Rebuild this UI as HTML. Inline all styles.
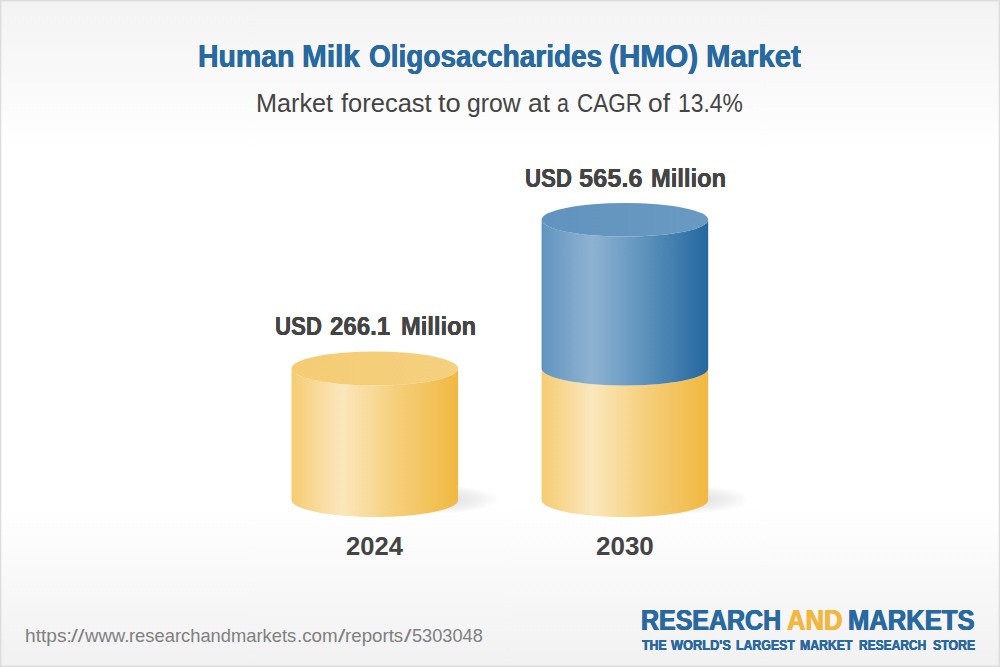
<!DOCTYPE html>
<html>
<head>
<meta charset="utf-8">
<title>Human Milk Oligosaccharides (HMO) Market</title>
<style>
html,body{margin:0;padding:0;}
body{width:1000px;height:667px;overflow:hidden;background:#fff;font-family:"Liberation Sans",sans-serif;}
#card{position:absolute;left:0;top:0;width:1000px;height:667px;box-sizing:border-box;
 border:1px solid #dcdcdc;box-shadow:inset 0 0 0 1px rgba(0,0,0,0.035);
 background:linear-gradient(to bottom,#f3f3f3 0px,#ffffff 150px,#ffffff 505px,#f1f1f1 667px);}
#art{position:absolute;left:0;top:0;width:1000px;height:667px;}
.t{position:absolute;white-space:nowrap;line-height:1;transform-origin:0 0;margin:0;padding:0;}
#title0{left:197.91px;top:41px;font-size:31.0px;font-weight:bold;color:#2769a0;transform:scaleX(0.9180);text-shadow:0.35px 0 0 #2769a0,-0.35px 0 0 #2769a0;}
#title1{left:302.34px;top:41px;font-size:31.0px;font-weight:bold;color:#2769a0;transform:scaleX(0.9602);text-shadow:0.35px 0 0 #2769a0,-0.35px 0 0 #2769a0;}
#title2{left:368.73px;top:41px;font-size:31.0px;font-weight:bold;color:#2769a0;transform:scaleX(0.9022);text-shadow:0.35px 0 0 #2769a0,-0.35px 0 0 #2769a0;}
#title3{left:609.38px;top:41px;font-size:31.0px;font-weight:bold;color:#2769a0;transform:scaleX(0.9587);text-shadow:0.35px 0 0 #2769a0,-0.35px 0 0 #2769a0;}
#title4{left:706.43px;top:41px;font-size:31.0px;font-weight:bold;color:#2769a0;transform:scaleX(0.9495);text-shadow:0.35px 0 0 #2769a0,-0.35px 0 0 #2769a0;}
#sub0{left:255.91px;top:90px;font-size:26.16px;font-weight:normal;color:#444444;transform:scaleX(0.9645);}
#sub1{left:340.60px;top:90px;font-size:26.16px;font-weight:normal;color:#444444;transform:scaleX(0.9744);}
#sub2{left:438.05px;top:90px;font-size:26.16px;font-weight:normal;color:#444444;transform:scaleX(1.0438);}
#sub3{left:467.32px;top:90px;font-size:26.16px;font-weight:normal;color:#444444;transform:scaleX(0.9476);}
#sub4{left:528.25px;top:90px;font-size:26.16px;font-weight:normal;color:#444444;transform:scaleX(1.0068);}
#sub5{left:557.48px;top:90px;font-size:26.16px;font-weight:normal;color:#444444;transform:scaleX(0.8174);}
#sub6{left:577.14px;top:90px;font-size:26.16px;font-weight:normal;color:#444444;transform:scaleX(0.8606);}
#sub7{left:647.68px;top:90px;font-size:26.16px;font-weight:normal;color:#444444;transform:scaleX(1.0061);}
#sub8{left:677.63px;top:90px;font-size:26.16px;font-weight:normal;color:#444444;transform:scaleX(0.8754);}
#labR0{left:525.20px;top:166px;font-size:25.44px;font-weight:bold;color:#444444;transform:scaleX(0.8738);text-shadow:0.12px 0 0 #444444,-0.12px 0 0 #444444;}
#labR1{left:578.60px;top:166px;font-size:25.44px;font-weight:bold;color:#444444;transform:scaleX(0.9988);text-shadow:0.12px 0 0 #444444,-0.12px 0 0 #444444;}
#labR2{left:650.85px;top:166px;font-size:25.44px;font-weight:bold;color:#444444;transform:scaleX(0.9325);text-shadow:0.12px 0 0 #444444,-0.12px 0 0 #444444;}
#labL0{left:275.20px;top:314px;font-size:25.44px;font-weight:bold;color:#444444;transform:scaleX(0.8738);text-shadow:0.12px 0 0 #444444,-0.12px 0 0 #444444;}
#labL1{left:329.90px;top:314px;font-size:25.44px;font-weight:bold;color:#444444;transform:scaleX(0.9464);text-shadow:0.12px 0 0 #444444,-0.12px 0 0 #444444;}
#labL2{left:400.85px;top:314px;font-size:25.44px;font-weight:bold;color:#444444;transform:scaleX(0.9325);text-shadow:0.12px 0 0 #444444,-0.12px 0 0 #444444;}
#y240{left:345.58px;top:534px;font-size:25.49px;font-weight:bold;color:#444444;transform:scaleX(1.0026);}
#y300{left:596.28px;top:534px;font-size:25.49px;font-weight:bold;color:#444444;transform:scaleX(1.0196);}
#url0{left:24.97px;top:626px;font-size:19.04px;font-weight:normal;color:#808080;transform:scaleX(1.0063);}
#url1{left:71.39px;top:626px;font-size:19.04px;font-weight:normal;color:#808080;transform:scaleX(1.2823);}
#url2{left:84.53px;top:626px;font-size:19.04px;font-weight:normal;color:#808080;transform:scaleX(0.9773);}
#url3{left:128.68px;top:626px;font-size:19.04px;font-weight:normal;color:#808080;transform:scaleX(0.9641);}
#url4{left:297.00px;top:626px;font-size:19.04px;font-weight:normal;color:#808080;transform:scaleX(0.9867);}
#url5{left:337.51px;top:626px;font-size:19.04px;font-weight:normal;color:#808080;transform:scaleX(1.4044);}
#url6{left:344.74px;top:626px;font-size:19.04px;font-weight:normal;color:#808080;transform:scaleX(0.9825);}
#url7{left:404.34px;top:626px;font-size:19.04px;font-weight:normal;color:#808080;transform:scaleX(1.4249);}
#url8{left:412.48px;top:626px;font-size:19.04px;font-weight:normal;color:#808080;transform:scaleX(0.9561);}
#logo0{left:641.17px;top:606px;font-size:29.0px;font-weight:bold;color:#2769a0;transform:scaleX(0.8611);text-shadow:0.55px 0 0 #2769a0,-0.55px 0 0 #2769a0;}
#logo1{left:787.00px;top:606px;font-size:29.0px;font-weight:bold;color:#f2b73f;transform:scaleX(0.8824);text-shadow:0.55px 0 0 #f2b73f,-0.55px 0 0 #f2b73f;}
#logo2{left:848.14px;top:606px;font-size:29.0px;font-weight:bold;color:#2769a0;transform:scaleX(0.8826);text-shadow:0.55px 0 0 #2769a0,-0.55px 0 0 #2769a0;}
#tag0{left:642.44px;top:638px;font-size:14.2px;font-weight:bold;color:#2769a0;transform:scaleX(0.8696);text-shadow:0.2px 0 0 #2769a0,-0.2px 0 0 #2769a0;}
#tag1{left:670.61px;top:638px;font-size:14.2px;font-weight:bold;color:#2769a0;transform:scaleX(0.9013);text-shadow:0.2px 0 0 #2769a0,-0.2px 0 0 #2769a0;}
#tag2{left:736.24px;top:638px;font-size:14.2px;font-weight:bold;color:#2769a0;transform:scaleX(0.8684);text-shadow:0.2px 0 0 #2769a0,-0.2px 0 0 #2769a0;}
#tag3{left:800.29px;top:638px;font-size:14.2px;font-weight:bold;color:#2769a0;transform:scaleX(0.8646);text-shadow:0.2px 0 0 #2769a0,-0.2px 0 0 #2769a0;}
#tag4{left:859.33px;top:638px;font-size:14.2px;font-weight:bold;color:#2769a0;transform:scaleX(0.8449);text-shadow:0.2px 0 0 #2769a0,-0.2px 0 0 #2769a0;}
#tag5{left:933.35px;top:638px;font-size:14.2px;font-weight:bold;color:#2769a0;transform:scaleX(0.8674);text-shadow:0.2px 0 0 #2769a0,-0.2px 0 0 #2769a0;}
</style>
</head>
<body>
<div id="card"></div>
<svg id="art" width="1000" height="667" viewBox="0 0 1000 667">
 <defs>
  <linearGradient id="gy" x1="0" y1="0" x2="1" y2="0">
   <stop offset="0" stop-color="#f5cc72"/>
   <stop offset="0.30" stop-color="#fbe7bd"/>
   <stop offset="0.62" stop-color="#f5cf7c"/>
   <stop offset="1" stop-color="#f1b841"/>
  </linearGradient>
  <linearGradient id="gb" x1="0" y1="0" x2="1" y2="0">
   <stop offset="0" stop-color="#5a8fbb"/>
   <stop offset="0.012" stop-color="#6395bf"/>
   <stop offset="0.30" stop-color="#8fb3d1"/>
   <stop offset="0.62" stop-color="#5d92bc"/>
   <stop offset="1" stop-color="#24679f"/>
  </linearGradient>
  <linearGradient id="ty" x1="0" y1="0" x2="1" y2="0">
   <stop offset="0" stop-color="#f5cc74"/>
   <stop offset="1" stop-color="#f4d07f"/>
  </linearGradient>
  <linearGradient id="tb" x1="0" y1="0" x2="1" y2="0">
   <stop offset="0" stop-color="#6093be"/>
   <stop offset="1" stop-color="#6a9ac2"/>
  </linearGradient>
  <filter id="blur" x="-30%" y="-80%" width="160%" height="260%"><feGaussianBlur stdDeviation="4"/></filter>
  <radialGradient id="sh" cx="0.5" cy="0.5" r="0.5">
   <stop offset="0" stop-color="#000" stop-opacity="0.14"/>
   <stop offset="0.35" stop-color="#000" stop-opacity="0.10"/>
   <stop offset="0.72" stop-color="#000" stop-opacity="0.05"/>
   <stop offset="1" stop-color="#000" stop-opacity="0"/>
  </radialGradient>
 </defs>
 <!-- shadows -->
 <ellipse cx="436" cy="499.5" rx="64" ry="14.5" fill="url(#sh)"/>
 <ellipse cx="686" cy="499.5" rx="64" ry="14.5" fill="url(#sh)"/>
 <!-- left cylinder -->
 <path d="M291.5 368.5 A83.3 17 0 0 0 458.1 368.5 L458.1 500 A83.3 17 0 0 1 291.5 500 Z" fill="url(#gy)"/>
 <ellipse cx="374.8" cy="368.5" rx="83.3" ry="17" fill="url(#ty)"/>
 <!-- right cylinder -->
 <path d="M541.6 368.5 A83.3 17 0 0 0 708.2 368.5 L708.2 500 A83.3 17 0 0 1 541.6 500 Z" fill="url(#gy)"/>
 <path d="M541.6 219.8 A83.3 16.8 0 0 0 708.2 219.8 L708.2 368.5 A83.3 17 0 0 1 541.6 368.5 Z" fill="url(#gb)"/>
 <ellipse cx="624.9" cy="219.8" rx="83.3" ry="16.8" fill="url(#tb)"/>
</svg>
<div class="t" id="title0">Human</div>
<div class="t" id="title1">Milk</div>
<div class="t" id="title2">Oligosaccharides</div>
<div class="t" id="title3">(HMO)</div>
<div class="t" id="title4">Market</div>
<div class="t" id="sub0">Market</div>
<div class="t" id="sub1">forecast</div>
<div class="t" id="sub2">to</div>
<div class="t" id="sub3">grow</div>
<div class="t" id="sub4">at</div>
<div class="t" id="sub5">a</div>
<div class="t" id="sub6">CAGR</div>
<div class="t" id="sub7">of</div>
<div class="t" id="sub8">13.4%</div>
<div class="t" id="labR0">USD</div>
<div class="t" id="labR1">565.6</div>
<div class="t" id="labR2">Million</div>
<div class="t" id="labL0">USD</div>
<div class="t" id="labL1">266.1</div>
<div class="t" id="labL2">Million</div>
<div class="t" id="y240">2024</div>
<div class="t" id="y300">2030</div>
<div class="t" id="url0">https:</div>
<div class="t" id="url1">//</div>
<div class="t" id="url2">www.</div>
<div class="t" id="url3">researchandmarkets</div>
<div class="t" id="url4">.com</div>
<div class="t" id="url5">/</div>
<div class="t" id="url6">reports</div>
<div class="t" id="url7">/</div>
<div class="t" id="url8">5303048</div>
<div class="t" id="logo0">RESEARCH</div>
<div class="t" id="logo1">AND</div>
<div class="t" id="logo2">MARKETS</div>
<div class="t" id="tag0">THE</div>
<div class="t" id="tag1">WORLD'S</div>
<div class="t" id="tag2">LARGEST</div>
<div class="t" id="tag3">MARKET</div>
<div class="t" id="tag4">RESEARCH</div>
<div class="t" id="tag5">STORE</div>
</body>
</html>
